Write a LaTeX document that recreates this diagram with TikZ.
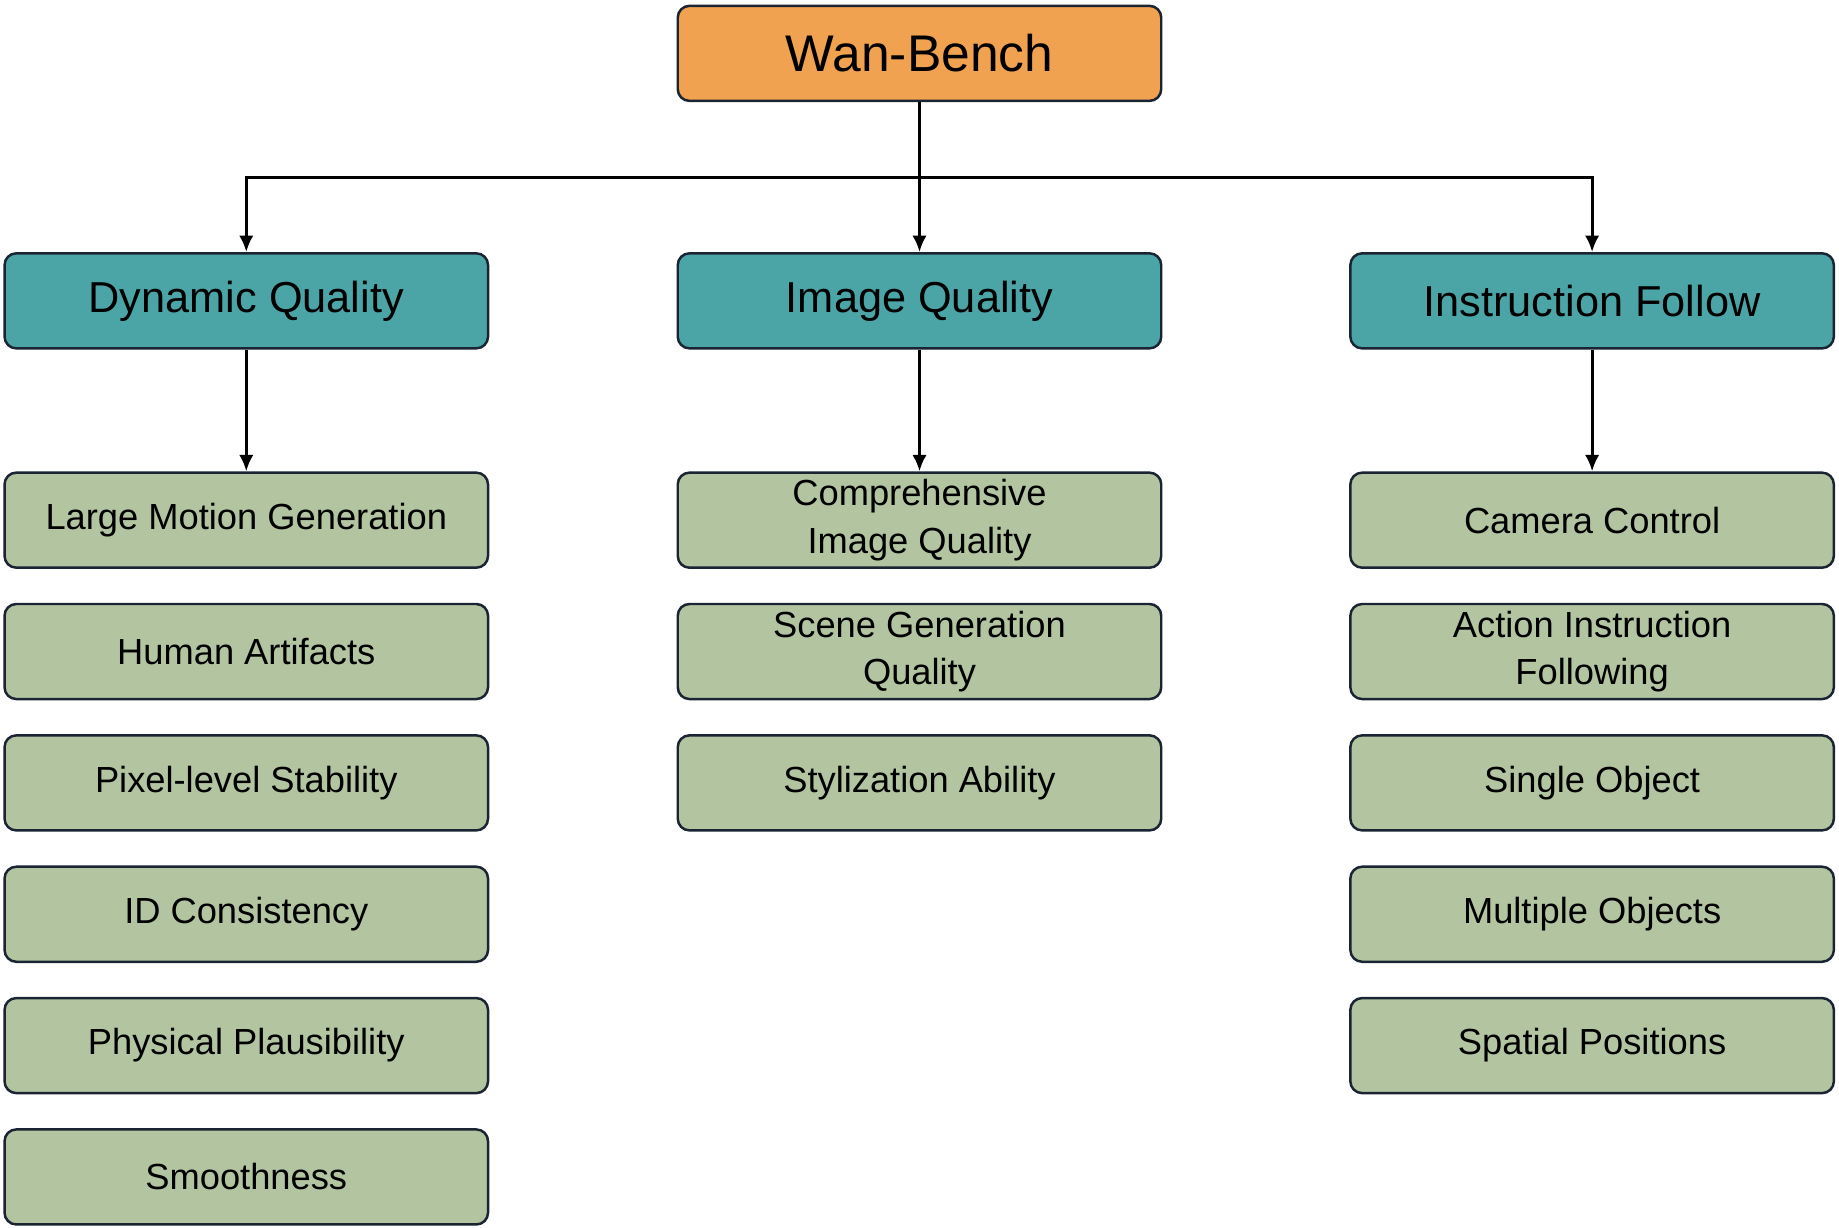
\documentclass[tikz,border=0pt]{standalone}
\usepackage{fontspec}
\setmainfont{Liberation Sans}
\usetikzlibrary{arrows.meta}
\definecolor{orng}{HTML}{F0A250}
\definecolor{teal2}{HTML}{4BA5A7}
\definecolor{grn}{HTML}{B3C4A0}
\definecolor{edge}{HTML}{1A2433}
\begin{document}
\begin{tikzpicture}[x=0.01cm,y=-0.01cm,
  box/.style={draw=edge,line width=0.6pt,rounded corners=0.1cm,minimum width=4.12cm,minimum height=0.81cm,inner sep=0pt,align=center},
  top/.style={box,fill=orng,font=\fontsize{12.5}{14}\selectfont},
  mid/.style={box,fill=teal2,font=\fontsize{10.5}{12}\selectfont},
  leaf/.style={box,fill=grn,font=\fontsize{8.8}{11.5}\selectfont},
  conn/.style={line width=0.75pt,-{Latex[length=4pt,width=3.5pt]}}]
\useasboundingbox (0,0) rectangle (1568,1047);
\node[top] (wb) at (784,45.5) {Wan-Bench};
\node[mid] (dq) at (210,256.5) {Dynamic Quality};
\node[mid] (iq) at (784,256.5) {Image Quality};
\node[mid] (if) at (1357.5,256.5) {Instruction Follow};
\coordinate (j) at (784,151);
\draw[line width=0.75pt] (wb.south) -- (j);
\draw[conn] (j) -| (dq.north);
\draw[conn] (j) -| (if.north);
\draw[conn] (j) -- (iq.north);
\foreach \t [count=\i] in {Large Motion Generation,Human Artifacts,Pixel-level Stability,ID Consistency,Physical Plausibility,Smoothness}
  \node[leaf] (d\i) at (210,{443.5+112*(\i-1)}) {\t};
\foreach \t [count=\i] in {{Comprehensive\\Image Quality},{Scene Generation\\Quality},Stylization Ability}
  \node[leaf] (m\i) at (784,{443.5+112*(\i-1)}) {\t};
\foreach \t [count=\i] in {Camera Control,{Action Instruction\\Following},Single Object,Multiple Objects,Spatial Positions}
  \node[leaf] (r\i) at (1357.5,{443.5+112*(\i-1)}) {\t};
\draw[conn] (dq) -- (d1);
\draw[conn] (iq) -- (m1);
\draw[conn] (if) -- (r1);
\end{tikzpicture}
\end{document}
